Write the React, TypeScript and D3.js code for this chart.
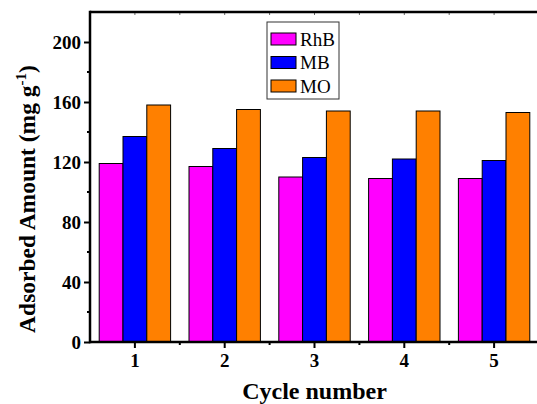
import React, { useEffect, useRef } from 'react'
import * as d3 from 'd3'

const cycles = ['1', '2', '3', '4', '5']
const seriesNames = ['RhB', 'MB', 'MO']
const rhb = [119, 117, 110, 109, 109]
const mb = [137, 129, 123, 122, 121]
const mo = [158, 155, 154, 154, 153]
const colors = ['#ff00ff', '#0000ff', '#ff8000']
const yTicks = [0, 40, 80, 120, 160, 200]

const W = 537
const H = 404
const margin = { left: 90, top: 12, right: -2, bottom: 62 }

export default function App() {
  const svgRef = useRef<SVGSVGElement>(null)

  useEffect(() => {
    document.body.style.margin = '0'
    document.body.style.overflow = 'hidden'
    const svg = d3.select(svgRef.current)
    svg.selectAll('*').remove()
    const font = 'Liberation Serif'

    const x0 = margin.left
    const x1 = W - margin.right
    const y0 = H - margin.bottom
    const y1 = margin.top

    const xScale = d3.scaleBand().domain(cycles).range([x0, x1]).paddingInner(0).paddingOuter(0)
    const inner = d3.scaleBand().domain(seriesNames).range([0, 71.4]).padding(0)
    const yScale = d3.scaleLinear().domain([0, 220]).range([y0, y1])

    const series = [rhb, mb, mo]
    const g = svg.append('g')

    cycles.forEach((c, i) => {
      const cx = (xScale(c) as number) + xScale.bandwidth() / 2
      seriesNames.forEach((s, j) => {
        const v = series[j][i]
        g.append('rect')
          .attr('x', cx - 35.7 + (inner(s) as number))
          .attr('y', yScale(v))
          .attr('width', inner.bandwidth())
          .attr('height', y0 - yScale(v))
          .attr('fill', colors[j])
          .attr('stroke', '#000')
          .attr('stroke-width', 1)
      })
    })

    // left axis
    const yAxis = d3.axisLeft(yScale).tickValues(yTicks).tickSize(6).tickPadding(3)
    const ya = svg.append('g').attr('transform', `translate(${x0},0)`).call(yAxis)
    ya.select('.domain').remove()
    ya.selectAll('line').attr('stroke-width', 2)
    ya.selectAll('text')
      .attr('font-family', font)
      .attr('font-weight', 'bold')
      .attr('font-size', 19)
      .attr('fill', '#000')
    const yMinor = d3.range(20, 220, 40)
    svg.append('g').selectAll('line').data(yMinor).join('line')
      .attr('x1', x0 - 3).attr('x2', x0)
      .attr('y1', d => yScale(d)).attr('y2', d => yScale(d))
      .attr('stroke', '#000').attr('stroke-width', 2)

    // bottom axis
    const xAxis = d3.axisBottom(xScale).tickSize(6).tickPadding(6)
    const xa = svg.append('g').attr('transform', `translate(0,${y0})`).call(xAxis)
    xa.select('.domain').remove()
    xa.selectAll('line').attr('stroke-width', 2)
    xa.selectAll('text')
      .attr('font-family', font)
      .attr('font-weight', 'bold')
      .attr('font-size', 19)
      .attr('fill', '#000')

    // minor ticks on top axis and bottom
    const centers = cycles.map(c => (xScale(c) as number) + xScale.bandwidth() / 2)
    const halves = centers.map(c => c + xScale.bandwidth() / 2).concat(centers)
    svg.append('g').selectAll('line').data(halves).join('line')
      .attr('x1', d => d).attr('x2', d => d)
      .attr('y1', y1).attr('y2', y1 + 3)
      .attr('stroke', '#666').attr('stroke-width', 1)
    svg.append('g').selectAll('line').data(halves.slice(0, 4)).join('line')
      .attr('x1', d => d).attr('x2', d => d)
      .attr('y1', y0).attr('y2', y0 + 3)
      .attr('stroke', '#000').attr('stroke-width', 2)

    // frame
    svg.append('line').attr('x1', x0).attr('x2', W).attr('y1', y0).attr('y2', y0)
      .attr('stroke', '#000').attr('stroke-width', 2.5)
    svg.append('line').attr('x1', x0).attr('x2', W).attr('y1', y1).attr('y2', y1)
      .attr('stroke', '#000').attr('stroke-width', 2.5)
    svg.append('line').attr('x1', x0).attr('x2', x0).attr('y1', y1 - 1.25).attr('y2', y0 + 1.25)
      .attr('stroke', '#000').attr('stroke-width', 2.5)

    // legend
    const lg = svg.append('g').attr('transform', 'translate(267,22)')
    lg.append('rect').attr('width', 72).attr('height', 77)
      .attr('fill', '#fff').attr('stroke', '#333').attr('stroke-width', 1)
    seriesNames.forEach((s, j) => {
      lg.append('rect').attr('x', 4).attr('y', 11 + j * 23.5).attr('width', 25).attr('height', 12)
        .attr('fill', colors[j]).attr('stroke', '#000').attr('stroke-width', 1)
      lg.append('text').attr('x', 33).attr('y', 23.5 + j * 23.5)
        .attr('font-family', font).attr('font-size', 19).attr('fill', '#000').text(s)
    })

    // x label
    svg.append('text').attr('x', (x0 + x1) / 2).attr('y', 399)
      .attr('text-anchor', 'middle').attr('font-family', font)
      .attr('font-weight', 'bold').attr('font-size', 24).text('Cycle number')

    // y label
    const yl = svg.append('text')
      .attr('transform', `translate(35,${(y0 + y1) / 2 + 22}) rotate(-90)`)
      .attr('text-anchor', 'middle').attr('font-family', font)
      .attr('font-weight', 'bold').attr('font-size', 23.5)
    yl.append('tspan').text('Adsorbed Amount (mg g')
    yl.append('tspan').attr('dy', -9).attr('font-size', 15).text('-1')
    yl.append('tspan').attr('dy', 9).text(')')
  }, [])

  return (
    <div style={{ position: 'fixed', left: 0, top: 0, width: W, height: H, overflow: 'hidden' }}>
      <svg ref={svgRef} width={W} height={H} style={{ display: 'block', background: '#fff' }} />
    </div>
  )
}
